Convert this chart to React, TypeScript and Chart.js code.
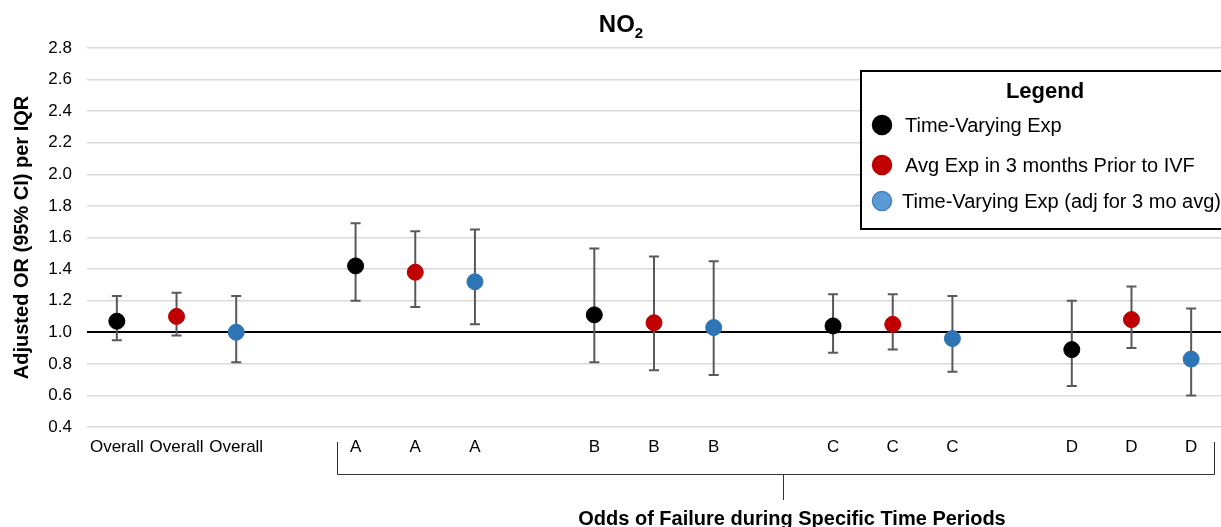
import React, { useEffect, useRef } from "react";
import { Chart, registerables } from "chart.js";

Chart.register(...registerables);

// ---------- data ----------
const categories = [
  "Overall", "Overall", "Overall", "",
  "A", "A", "A", "",
  "B", "B", "B", "",
  "C", "C", "C", "",
  "D", "D", "D",
];
const periods = ["Overall", "A", "B", "C", "D"];
const seriesNames = [
  "Time-Varying Exp",
  "Avg Exp in 3 months Prior to IVF",
  "Time-Varying Exp (adj for 3 mo avg)",
];

// Time-Varying Exp
const tvEst = [1.07, 1.42, 1.11, 1.04, 0.89];
const tvLow = [0.95, 1.2, 0.81, 0.87, 0.66];
const tvHigh = [1.23, 1.69, 1.53, 1.24, 1.2];

// Avg Exp in 3 months prior to IVF
const avgEst = [1.1, 1.38, 1.06, 1.05, 1.08];
const avgLow = [0.98, 1.16, 0.76, 0.89, 0.9];
const avgHigh = [1.25, 1.64, 1.48, 1.24, 1.29];

// Time-Varying Exp (adj for 3 mo avg)
const adjEst = [1.0, 1.32, 1.03, 0.96, 0.83];
const adjLow = [0.81, 1.05, 0.73, 0.75, 0.6];
const adjHigh = [1.23, 1.65, 1.45, 1.23, 1.15];

const yTicks = [0.4, 0.6, 0.8, 1.0, 1.2, 1.4, 1.6, 1.8, 2.0, 2.2, 2.4, 2.6, 2.8];

const pointColors = ["#000000", "#c00000", "#2e75b6"];
const legendColors = ["#000000", "#c00000", "#5b9bd5"];
const legendBorders = ["#000000", "#c00000", "#4a7ebb"];

const FONT = "Arial, 'Liberation Sans', Helvetica, sans-serif";

const estimates = [tvEst, avgEst, adjEst];
const lows = [tvLow, avgLow, adjLow];
const highs = [tvHigh, avgHigh, adjHigh];

function seriesData(s: number): (number | null)[] {
  const arr: (number | null)[] = categories.map(() => null);
  periods.forEach((_, p) => {
    arr[p * 4 + s] = estimates[s][p];
  });
  return arr;
}

const errorBarPlugin = {
  id: "errorBars",
  beforeDatasetsDraw(chart: any) {
    const { ctx, scales } = chart;
    const xs = scales.x;
    const ys = scales.y;
    ctx.save();
    ctx.strokeStyle = "#595959";
    ctx.lineWidth = 2;
    for (let s = 0; s < 3; s++) {
      periods.forEach((_, p) => {
        const x = xs.getPixelForValue(p * 4 + s);
        const yl = ys.getPixelForValue(lows[s][p]);
        const yh = ys.getPixelForValue(highs[s][p]);
        const cap = 5;
        ctx.beginPath();
        ctx.moveTo(x, yl);
        ctx.lineTo(x, yh);
        ctx.moveTo(x - cap, yl);
        ctx.lineTo(x + cap, yl);
        ctx.moveTo(x - cap, yh);
        ctx.lineTo(x + cap, yh);
        ctx.stroke();
      });
    }
    ctx.restore();
  },
};

const decorPlugin = {
  id: "decor",
  afterDraw(chart: any) {
    const { ctx, scales } = chart;
    const xs = scales.x;
    ctx.save();

    // Title NO2
    ctx.fillStyle = "#000";
    ctx.textBaseline = "alphabetic";
    ctx.font = `bold 24px ${FONT}`;
    const noW = ctx.measureText("NO").width;
    ctx.font = `bold 15px ${FONT}`;
    const subW = ctx.measureText("2").width;
    const cx = 621;
    const startX = cx - (noW + subW) / 2;
    ctx.font = `bold 24px ${FONT}`;
    ctx.textAlign = "left";
    ctx.fillText("NO", startX, 32);
    ctx.font = `bold 15px ${FONT}`;
    ctx.fillText("2", startX + noW, 38);

    // Legend box
    const lx = 861, ly = 71, lw = 380, lh = 158;
    ctx.fillStyle = "#ffffff";
    ctx.fillRect(lx, ly, lw, lh);
    ctx.strokeStyle = "#000";
    ctx.lineWidth = 2;
    ctx.strokeRect(lx, ly, lw, lh);
    ctx.fillStyle = "#000";
    ctx.font = `bold 22px ${FONT}`;
    ctx.textAlign = "center";
    ctx.textBaseline = "middle";
    ctx.fillText("Legend", 1045, 92);
    const itemY = [125, 165, 201];
    const textX = [905, 905, 902];
    ctx.textAlign = "left";
    ctx.font = `20px ${FONT}`;
    seriesNames.forEach((name, i) => {
      ctx.beginPath();
      ctx.arc(882, itemY[i], 9.5, 0, Math.PI * 2);
      ctx.fillStyle = legendColors[i];
      ctx.fill();
      ctx.lineWidth = 1.5;
      ctx.strokeStyle = legendBorders[i];
      ctx.stroke();
      ctx.fillStyle = "#000";
      ctx.fillText(name, textX[i], itemY[i] + 1);
    });

    // Bracket under A..D
    const leftX = Math.round(xs.getPixelForValue(4) - 19);
    const rightX = Math.round(xs.getPixelForValue(18) + 23);
    const midX = Math.round((leftX + rightX) / 2 + 7);
    ctx.strokeStyle = "#333";
    ctx.lineWidth = 1;
    ctx.beginPath();
    ctx.moveTo(leftX + 0.5, 442);
    ctx.lineTo(leftX + 0.5, 474.5);
    ctx.lineTo(rightX + 0.5, 474.5);
    ctx.lineTo(rightX + 0.5, 442);
    ctx.moveTo(midX + 0.5, 474.5);
    ctx.lineTo(midX + 0.5, 500);
    ctx.stroke();

    ctx.fillStyle = "#000";
    ctx.font = `bold 20px ${FONT}`;
    ctx.textAlign = "center";
    ctx.textBaseline = "alphabetic";
    ctx.fillText("Odds of Failure during Specific Time Periods", 792, 525);

    ctx.restore();
  },
};

export default function App() {
  const canvasRef = useRef<HTMLCanvasElement | null>(null);

  useEffect(() => {
    if (!canvasRef.current) return;
    const chart = new Chart(canvasRef.current, {
      type: "line",
      data: {
        labels: categories,
        datasets: seriesNames.map((name, s) => ({
          label: name,
          data: seriesData(s),
          showLine: false,
          pointRadius: 8,
          pointHoverRadius: 8,
          pointBackgroundColor: pointColors[s],
          pointBorderColor: pointColors[s],
          pointBorderWidth: 1,
          borderColor: pointColors[s],
          backgroundColor: pointColors[s],
        })),
      },
      options: {
        responsive: false,
        animation: false,
        layout: { autoPadding: false, padding: { top: 48, right: 0, left: 0, bottom: 0 } },
        plugins: {
          legend: { display: false },
          title: { display: false },
          tooltip: { enabled: false },
        },
        scales: {
          x: {
            type: "category",
            offset: true,
            grid: { display: false, drawTicks: false },
            border: { display: false },
            ticks: {
              autoSkip: false,
              maxRotation: 0,
              minRotation: 0,
              padding: 10,
              color: "#000",
              font: { family: FONT, size: 17 },
            },
            afterFit(scale: any) {
              scale.height = 100;
              scale.paddingLeft = 0;
              scale.paddingRight = 0;
            },
          },
          y: {
            type: "linear",
            min: yTicks[0],
            max: yTicks[yTicks.length - 1],
            afterBuildTicks(scale: any) {
              scale.ticks = yTicks.map((v) => ({ value: v }));
            },
            grid: {
              drawTicks: false,
              color: (c: any) =>
                c.tick && Math.abs(c.tick.value - 1) < 1e-6 ? "#000000" : "#d9d9d9",
              lineWidth: (c: any) =>
                c.tick && Math.abs(c.tick.value - 1) < 1e-6 ? 2 : 1.5,
            },
            border: { display: false },
            ticks: {
              padding: 15,
              color: "#000",
              font: { family: FONT, size: 17 },
              callback: (v: any) => Number(v).toFixed(1),
            },
            title: {
              display: true,
              text: "Adjusted OR (95% CI) per IQR",
              color: "#000",
              font: { family: FONT, size: 20, weight: "bold" },
              padding: { top: 10, bottom: 4 },
            },
            afterFit(scale: any) {
              scale.width = 87;
            },
          },
        },
      },
      plugins: [errorBarPlugin, decorPlugin],
    } as any);
    return () => chart.destroy();
  }, []);

  return (
    <div style={{ position: "fixed", left: 0, top: 0, width: 1221, height: 527, background: "#fff" }}>
      <canvas ref={canvasRef} width={1221} height={527} style={{ display: "block" }} />
    </div>
  );
}
